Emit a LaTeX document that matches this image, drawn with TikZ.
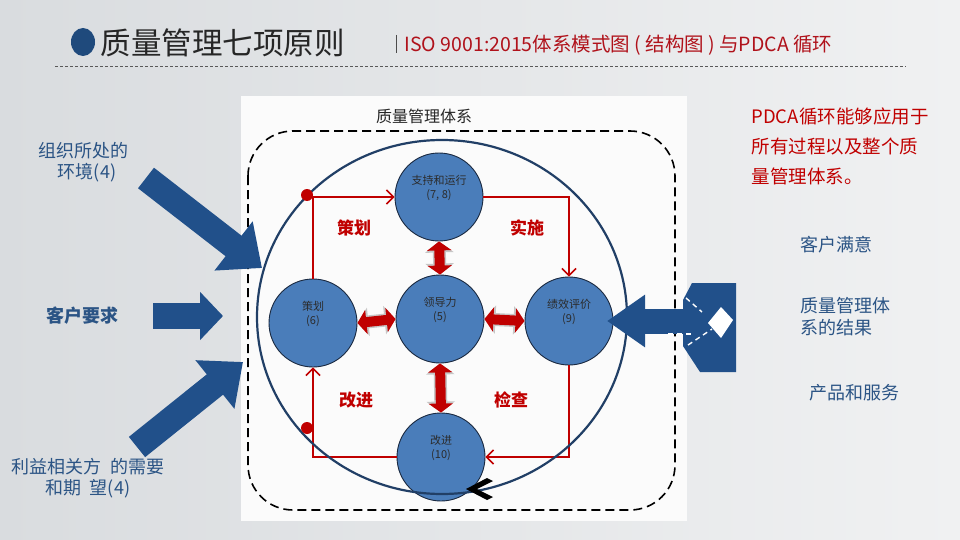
\documentclass[tikz,border=0pt]{standalone}
\usepackage{fontspec}
\setmainfont{Noto Sans CJK SC}
\usetikzlibrary{arrows.meta,shapes.geometric}
\definecolor{bgl}{HTML}{D9DCDF}
\definecolor{bgr}{HTML}{F0F1F2}
\definecolor{navy}{HTML}{1F4A7C}
\definecolor{arrowblue}{HTML}{21508A}
\definecolor{ballfill}{HTML}{4A7DBA}
\definecolor{balledge}{HTML}{1A2940}
\definecolor{ringblue}{HTML}{213F66}
\definecolor{pdcared}{HTML}{C00000}
\definecolor{lblblue}{HTML}{2B5485}
\definecolor{balltext}{HTML}{2B2B2B}
\definecolor{titlered}{HTML}{B0121B}
\begin{document}
\begin{tikzpicture}[x=1pt,y=-1pt,
  ball/.style={circle,minimum size=88pt,inner sep=0pt,fill=ballfill,draw=balledge,line width=0.9pt,align=center,text=balltext,font=\fontsize{11}{14}\selectfont},
  cycleline/.style={draw=pdcared,line width=2pt,-{Straight Barb[length=7pt,width=14pt,line width=1.6pt]}},
  dblarrow/.style={draw=pdcared,line width=10pt,{Triangle[length=9pt,width=24pt]}-{Triangle[length=9pt,width=24pt]}},
  dblshadow/.style={draw=gray!45,line width=13pt,{Triangle[length=11pt,width=28pt]}-{Triangle[length=11pt,width=28pt]}},
  bigarrow/.style={draw=arrowblue,line width=26pt,-{Triangle[length=36pt,width=60pt]}},
  lbl/.style={text=lblblue,align=center,font=\fontsize{18}{21}\selectfont},
  rlbl/.style={text=lblblue,align=left,font=\fontsize{18}{22}\selectfont},
  pdcalbl/.style={text=pdcared,font=\bfseries\fontsize{17}{19}\selectfont},
  reddot/.style={circle,fill=pdcared,minimum size=12pt,inner sep=0pt}
]
\useasboundingbox (0,0) rectangle (960,540);
\shade[left color=bgl,right color=bgr] (0,0) rectangle (960,540);
\fill[white!97!gray] (241,96) rectangle (687,521);

% title
\fill[navy] (83,42) ellipse (12pt and 14pt);
\node[anchor=west,font=\fontsize{30.5}{32}\selectfont,text=black!85] (title) at (97,43) {质量管理七项原则};
\draw[black!70,line width=0.8pt] (396,35) -- (396,53);
\node[anchor=west,text=titlered,font=\fontsize{19.5}{21}\selectfont] (sub) at (401,45) {ISO 9001:2015体系模式图 ( 结构图 ) 与PDCA 循环};
\draw[black!65,dash pattern=on 3pt off 2pt,line width=0.6pt] (55,66) -- (906,66);

% system frame
\node[font=\fontsize{16}{18}\selectfont,text=black!85] (qmstitle) at (424,116) {质量管理体系};
\draw[black,line width=1.6pt,dash pattern=on 9pt off 5pt,rounded corners=45pt] (248,131) rectangle (675,510);

% balls
\node[ball] (top) at (439,197) {支持和运行\\(7, 8)\\[6pt]};
\node[ball] (center) at (440,319) {领导力\\(5)\\[6pt]};
\node[ball] (left) at (313,323) {策划\\(6)\\[6pt]};
\node[ball] (right) at (569,321) {绩效评价\\(9)\\[6pt]};
\node[ball] (bottom) at (441,457) {改进\\(10)\\[6pt]};

% PDCA cycle
\draw[cycleline] (left.north) |- (top.west);
\draw[cycleline] (top.east) -| (right.north);
\draw[cycleline] (right.south) |- (bottom.east);
\draw[cycleline] (bottom.west) -| (left.south);

% leadership double arrows
\draw[dblshadow] (top.south) -- (center.north);
\draw[dblshadow] (left.east) -- (center.west);
\draw[dblshadow] (center.east) -- (right.west);
\draw[dblshadow] (center.south) -- (bottom.north);
\draw[dblarrow] (top.south) -- (center.north);
\draw[dblarrow] (left.east) -- (center.west);
\draw[dblarrow] (center.east) -- (right.west);
\draw[dblarrow] (center.south) -- (bottom.north);

% ring
\node[draw=ringblue,line width=2.2pt,ellipse,minimum width=370pt,minimum height=354pt,inner sep=0pt] (ring) at (442,317) {};
\node[reddot] (d1) at (307,195) {};
\node[reddot] (d2) at (307,428) {};

% PDCA labels
\node[pdcalbl] (lplan) at (354,228) {策划};
\node[pdcalbl] (ldo) at (527,228) {实施};
\node[pdcalbl] (lact) at (356,400) {改进};
\node[pdcalbl] (lcheck) at (511,400) {检查};

% black chevron
\fill[black] (487,478) -- (466,489) -- (487,500) -- (493,497) -- (477,489) -- (493,481) -- cycle;

% left input arrows
\coordinate (a1s) at (146,178);
\coordinate (a1e) at (262,268);
\coordinate (a2s) at (153,316);
\coordinate (a2e) at (223,316);
\coordinate (a3s) at (137,447);
\coordinate (a3e) at (243,362);
\draw[bigarrow] (a1s) -- (a1e);
\draw[draw=arrowblue,line width=26pt,-{Triangle[length=23pt,width=47pt]}] (a2s) -- (a2e);
\draw[bigarrow] (a3s) -- (a3e);

\node[lbl] (env) at (83,162) {组织所处的\\\ \ 环境(4)};
\node[lbl,font=\bfseries\fontsize{18}{21}\selectfont] (cust) at (82,316) {客户要求};
\node[lbl] (stake) at (88,478) {利益相关方\ \ 的需要\\和期\ \ 望(4)};

% right output arrow
\coordinate (rt) at (607,321);
\coordinate (rs) at (712,321);
\fill[arrowblue] (692,283) -- (736,283) -- (736,372) -- (700,372) -- (683,346) -- (683,300) -- cycle;
\draw[draw=arrowblue,line width=25pt,-{Triangle[length=38pt,width=50pt]}] (rs) -- (rt);
\fill[white] (708,323) -- (721,307) -- (733,320) -- (721,338) -- cycle;
\draw[white,line width=1.4pt,dash pattern=on 5pt off 4pt] (686,298) -- (702,312);
\draw[white,line width=1.4pt,dash pattern=on 5pt off 4pt] (688,345) -- (712,329);
\draw[white,line width=1.4pt,dash pattern=on 5pt off 4pt] (668,334) -- (693,334);

% right texts
\node[anchor=north west,text=pdcared,align=left,font=\fontsize{18.5}{30}\selectfont] (pdcanote) at (748,104) {PDCA循环能够应用于\\所有过程以及整个质\\量管理体系。};
\node[rlbl] (sat) at (836,245) {客户满意};
\node[rlbl,anchor=west] (res) at (797,317) {质量管理体\\系的结果};
\node[rlbl] (prod) at (854,393) {产品和服务};
\end{tikzpicture}
\end{document}
